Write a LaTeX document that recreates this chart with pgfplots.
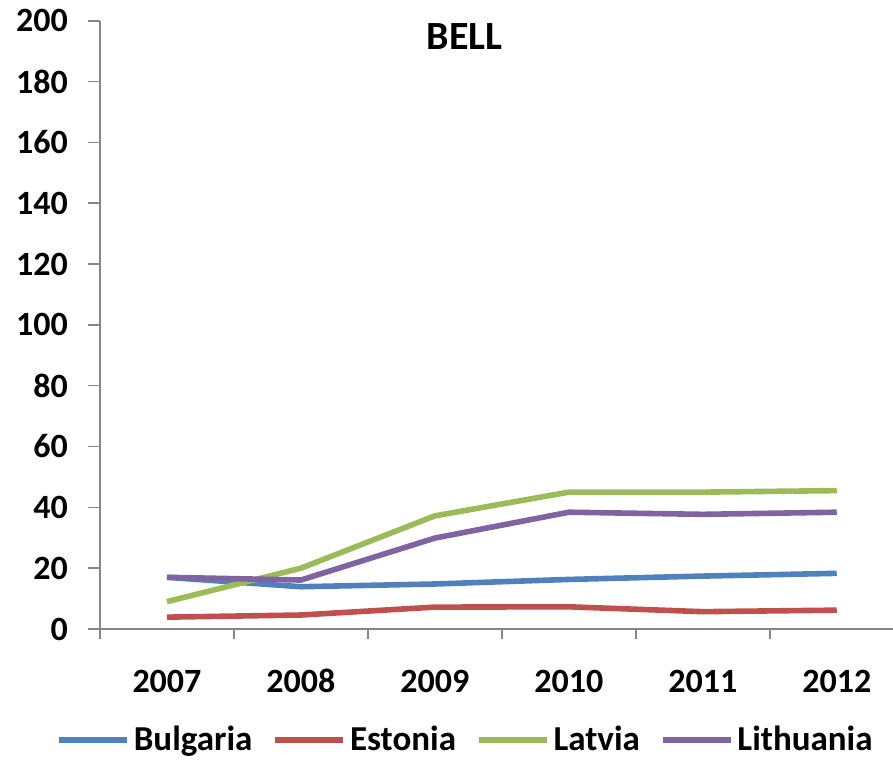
\documentclass[border=0pt]{standalone}
\usepackage{pgfplots}
\pgfplotsset{compat=1.18}
\usepackage{fontspec}
\setmainfont{Carlito}
\definecolor{cBul}{HTML}{4F81BD}
\definecolor{cEst}{HTML}{C0504D}
\definecolor{cLat}{HTML}{9BBB59}
\definecolor{cLit}{HTML}{8064A2}
\definecolor{axgray}{HTML}{868686}
\begin{document}
\begin{tikzpicture}
\begin{axis}[
  scale only axis=true,
  width=396.5pt, height=304.15pt,
  xmin=-0.5, xmax=5.42,
  ymin=0, ymax=200,
  axis lines=left,
  axis line style={draw=axgray, line width=0.8pt, -},
  xtick={0,1,2,3,4,5},
  xticklabels={2007,2008,2009,2010,2011,2012},
  minor xtick={-0.5,0.5,1.5,2.5,3.5,4.5},
  major x tick style={draw=none},
  minor x tick style={draw=axgray, line width=0.8pt},
  minor tick length=5pt,
  ytick={0,20,...,200},
  y tick style={draw=axgray, line width=0.8pt},
  major tick length=6pt,
  tick align=outside,
  /pgf/number format/assume math mode=true,
  ticklabel style={font=\fontsize{17}{20}\selectfont\bfseries, text=black},
  yticklabel style={xshift=-6.5pt},
  xticklabel style={anchor=north, text height=11pt, text depth=0pt, yshift=-11pt},
  legend columns=4,
  legend style={draw=none, fill=none, at={(axis description cs:0.462,-0.1826)}, anchor=center,
    font=\fontsize{17.5}{20}\selectfont\bfseries,
    /tikz/every even column/.append style={column sep=8pt}},
  legend image code/.code={\draw[#1] (0pt,0pt) -- (34pt,0pt);},
  every axis plot/.append style={line width=2.8pt},
  clip=false,
]
\addplot[cBul] coordinates {(0,17.0) (1,13.9) (2,14.8) (3,16.3) (4,17.4) (5,18.3)};
\addlegendentry{Bulgaria}
\addplot[cEst] coordinates {(0,3.9) (1,4.6) (2,7.2) (3,7.3) (4,5.7) (5,6.2)};
\addlegendentry{Estonia}
\addplot[cLat] coordinates {(0,9.0) (1,20.0) (2,37.2) (3,45.0) (4,45.0) (5,45.5)};
\addlegendentry{Latvia}
\addplot[cLit] coordinates {(0,17.0) (1,16.1) (2,29.9) (3,38.4) (4,37.7) (5,38.4)};
\addlegendentry{Lithuania}
\node[anchor=north, inner sep=0pt, font=\fontsize{20}{24}\selectfont\bfseries] at (axis description cs:0.46,1) [yshift=-1pt] {BELL};
\end{axis}
\pgfresetboundingbox
\useasboundingbox (-50pt,-66.5pt) rectangle (396.5pt,314.5pt);
\end{tikzpicture}
\end{document}
